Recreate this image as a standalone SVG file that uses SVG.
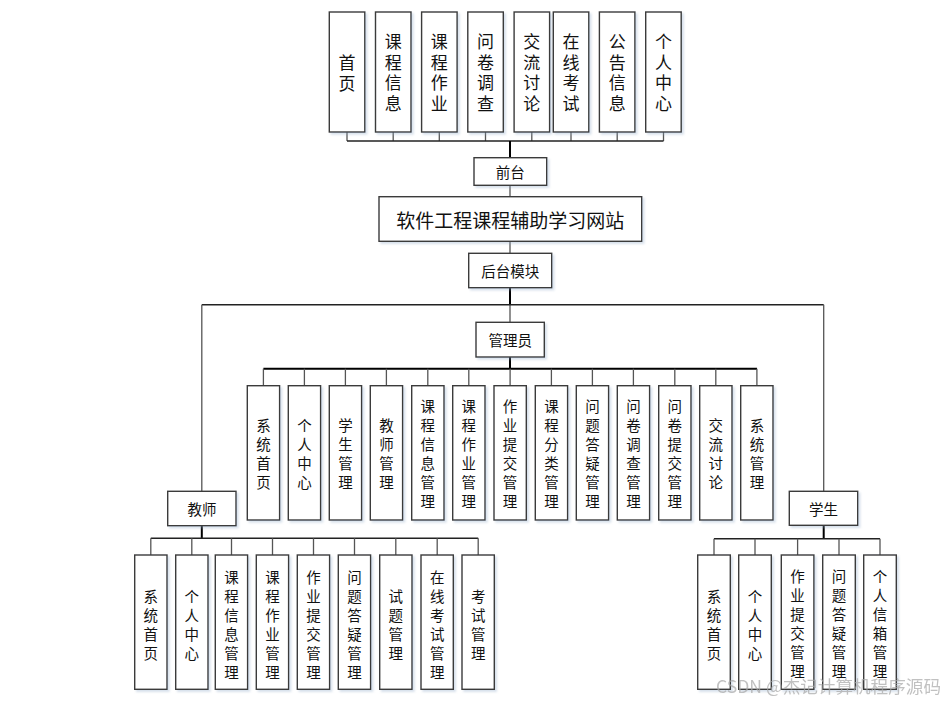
<svg xmlns="http://www.w3.org/2000/svg" width="945" height="701" viewBox="0 0 945 701">
<defs>
<filter id="sh" x="-20%" y="-20%" width="150%" height="150%">
<feDropShadow dx="2" dy="2" stdDeviation="1.2" flood-color="#8fa8c8" flood-opacity="0.35"/>
</filter>
</defs>
<style>
rect.b{fill:#fff;stroke:#3a3a3a;stroke-width:1.4;filter:url(#sh)}
text{font-family:"Noto Sans CJK SC","Noto Sans",sans-serif;fill:#111;text-anchor:middle;dominant-baseline:central}
.t1{font-size:17px}
.t2{font-size:14.5px}
.lb{font-size:14.5px}
.title{font-size:19px}
.c line{stroke:#222;stroke-width:1.4}
.c line.k{stroke:#000;stroke-width:2}
.c line.g{stroke:#555;stroke-width:1.3}
.wm{font-size:17.6px;fill:#a8a8a8;opacity:0.7;text-anchor:start;dominant-baseline:auto}
</style>
<rect width="945" height="701" fill="#fff"/>

<g class="c" id="connectors">
<line class="g" x1="347" y1="132" x2="347" y2="141"/>
<line class="g" x1="393.2" y1="132" x2="393.2" y2="141"/>
<line class="g" x1="439.3" y1="132" x2="439.3" y2="141"/>
<line class="g" x1="485.5" y1="132" x2="485.5" y2="141"/>
<line class="g" x1="531.8" y1="132" x2="531.8" y2="141"/>
<line class="g" x1="571" y1="132" x2="571" y2="141"/>
<line class="g" x1="617.2" y1="132" x2="617.2" y2="141"/>
<line class="g" x1="663.5" y1="132" x2="663.5" y2="141"/>
<line x1="347" y1="141" x2="663.5" y2="141"/>
<line class="k" x1="510" y1="141" x2="510" y2="157.7"/>
<line class="g" x1="510" y1="185.3" x2="510" y2="196.7"/>
<line class="g" x1="510" y1="241.3" x2="510" y2="253.3"/>
<line class="k" x1="510" y1="287.7" x2="510" y2="305"/>
<line class="g" x1="510" y1="305" x2="510" y2="322.3"/>
<line x1="201.8" y1="304.7" x2="823.7" y2="304.7"/>
<line class="g" x1="201.8" y1="304.7" x2="201.8" y2="491.3"/>
<line class="g" x1="823.7" y1="304.7" x2="823.7" y2="491.3"/>
<line class="k" x1="510" y1="357" x2="510" y2="368.7"/>
<line class="k" x1="263.4" y1="368.7" x2="757" y2="368.7"/>
<line class="g" x1="263.4" y1="368.7" x2="263.4" y2="385.7"/>
<line class="g" x1="304.4" y1="368.7" x2="304.4" y2="385.7"/>
<line class="g" x1="345.4" y1="368.7" x2="345.4" y2="385.7"/>
<line class="g" x1="386.4" y1="368.7" x2="386.4" y2="385.7"/>
<line class="g" x1="427.8" y1="368.7" x2="427.8" y2="385.7"/>
<line class="g" x1="468.8" y1="368.7" x2="468.8" y2="385.7"/>
<line class="g" x1="510.1" y1="368.7" x2="510.1" y2="385.7"/>
<line class="g" x1="551.4" y1="368.7" x2="551.4" y2="385.7"/>
<line class="g" x1="592.4" y1="368.7" x2="592.4" y2="385.7"/>
<line class="g" x1="633.4" y1="368.7" x2="633.4" y2="385.7"/>
<line class="g" x1="674.8" y1="368.7" x2="674.8" y2="385.7"/>
<line class="g" x1="715.8" y1="368.7" x2="715.8" y2="385.7"/>
<line class="g" x1="756.9" y1="368.7" x2="756.9" y2="385.7"/>
<line class="k" x1="201.8" y1="525.7" x2="201.8" y2="538.3"/>
<line x1="150.8" y1="538.3" x2="478.2" y2="538.3"/>
<line class="g" x1="150.8" y1="538.3" x2="150.8" y2="555"/>
<line class="g" x1="191.8" y1="538.3" x2="191.8" y2="555"/>
<line class="g" x1="231.5" y1="538.3" x2="231.5" y2="555"/>
<line class="g" x1="272.5" y1="538.3" x2="272.5" y2="555"/>
<line class="g" x1="313.5" y1="538.3" x2="313.5" y2="555"/>
<line class="g" x1="354.5" y1="538.3" x2="354.5" y2="555"/>
<line class="g" x1="395.8" y1="538.3" x2="395.8" y2="555"/>
<line class="g" x1="437.2" y1="538.3" x2="437.2" y2="555"/>
<line class="g" x1="478.2" y1="538.3" x2="478.2" y2="555"/>
<line class="k" x1="823.7" y1="525.3" x2="823.7" y2="538.7"/>
<line x1="714" y1="538.7" x2="880" y2="538.7"/>
<line class="g" x1="714" y1="538.7" x2="714" y2="555"/>
<line class="g" x1="755" y1="538.7" x2="755" y2="555"/>
<line class="g" x1="797.6" y1="538.7" x2="797.6" y2="555"/>
<line class="g" x1="839" y1="538.7" x2="839" y2="555"/>
<line class="g" x1="880" y1="538.7" x2="880" y2="555"/>
</g>

<g id="f1"><rect class="b" x="329.3" y="12" width="35.5" height="120"/><text class="t1"><tspan x="347" y="61">首</tspan><tspan x="347" y="81.5">页</tspan></text></g>
<g id="f2"><rect class="b" x="375.5" y="12" width="35.5" height="120"/><text class="t1"><tspan x="393.2" y="40.3">课</tspan><tspan x="393.2" y="60.8">程</tspan><tspan x="393.2" y="81.3">信</tspan><tspan x="393.2" y="101.8">息</tspan></text></g>
<g id="f3"><rect class="b" x="421.6" y="12" width="35.5" height="120"/><text class="t1"><tspan x="439.3" y="40.3">课</tspan><tspan x="439.3" y="60.8">程</tspan><tspan x="439.3" y="81.3">作</tspan><tspan x="439.3" y="101.8">业</tspan></text></g>
<g id="f4"><rect class="b" x="467.8" y="12" width="35.5" height="120"/><text class="t1"><tspan x="485.5" y="40.3">问</tspan><tspan x="485.5" y="60.8">卷</tspan><tspan x="485.5" y="81.3">调</tspan><tspan x="485.5" y="101.8">查</tspan></text></g>
<g id="f5"><rect class="b" x="514.1" y="12" width="35.5" height="120"/><text class="t1"><tspan x="531.8" y="40.3">交</tspan><tspan x="531.8" y="60.8">流</tspan><tspan x="531.8" y="81.3">讨</tspan><tspan x="531.8" y="101.8">论</tspan></text></g>
<g id="f6"><rect class="b" x="553.3" y="12" width="35.5" height="120"/><text class="t1"><tspan x="571" y="40.3">在</tspan><tspan x="571" y="60.8">线</tspan><tspan x="571" y="81.3">考</tspan><tspan x="571" y="101.8">试</tspan></text></g>
<g id="f7"><rect class="b" x="599.4" y="12" width="35.5" height="120"/><text class="t1"><tspan x="617.2" y="40.3">公</tspan><tspan x="617.2" y="60.8">告</tspan><tspan x="617.2" y="81.3">信</tspan><tspan x="617.2" y="101.8">息</tspan></text></g>
<g id="f8"><rect class="b" x="645.7" y="12" width="35.5" height="120"/><text class="t1"><tspan x="663.5" y="40.3">个</tspan><tspan x="663.5" y="60.8">人</tspan><tspan x="663.5" y="81.3">中</tspan><tspan x="663.5" y="101.8">心</tspan></text></g>

<g id="qiantai"><rect class="b" x="474" y="157.7" width="72.7" height="27.6"/><text class="lb" x="510.3" y="171.5">前台</text></g>
<g id="main"><rect class="b" x="379" y="196.7" width="262.7" height="44.6"/><text class="title" x="510.3" y="219">软件工程课程辅助学习网站</text></g>
<g id="houtai"><rect class="b" x="468.7" y="253.3" width="83" height="34.4"/><text class="lb" x="510.2" y="270.5">后台模块</text></g>
<g id="admin"><rect class="b" x="476" y="322.3" width="68.3" height="34.7"/><text class="lb" x="510.2" y="339.7">管理员</text></g>
<g id="teacher"><rect class="b" x="167.7" y="491.3" width="68.3" height="34.4"/><text class="lb" x="201.9" y="508.5">教师</text></g>
<g id="student"><rect class="b" x="789.3" y="491.3" width="68.4" height="34"/><text class="lb" x="823.5" y="508.3">学生</text></g>

<g id="a1"><rect class="b" x="247.3" y="385.7" width="32.3" height="134.3"/><text class="t2"><tspan x="263.4" y="424">系</tspan><tspan x="263.4" y="443">统</tspan><tspan x="263.4" y="462">首</tspan><tspan x="263.4" y="481">页</tspan></text></g>
<g id="a2"><rect class="b" x="288.3" y="385.7" width="32.3" height="134.3"/><text class="t2"><tspan x="304.4" y="424">个</tspan><tspan x="304.4" y="443">人</tspan><tspan x="304.4" y="462">中</tspan><tspan x="304.4" y="481">心</tspan></text></g>
<g id="a3"><rect class="b" x="329.3" y="385.7" width="32.3" height="134.3"/><text class="t2"><tspan x="345.4" y="424">学</tspan><tspan x="345.4" y="443">生</tspan><tspan x="345.4" y="462">管</tspan><tspan x="345.4" y="481">理</tspan></text></g>
<g id="a4"><rect class="b" x="370.3" y="385.7" width="32.3" height="134.3"/><text class="t2"><tspan x="386.4" y="424">教</tspan><tspan x="386.4" y="443">师</tspan><tspan x="386.4" y="462">管</tspan><tspan x="386.4" y="481">理</tspan></text></g>
<g id="a5"><rect class="b" x="411.7" y="385.7" width="32.3" height="134.3"/><text class="t2"><tspan x="427.8" y="405">课</tspan><tspan x="427.8" y="424">程</tspan><tspan x="427.8" y="443">信</tspan><tspan x="427.8" y="462">息</tspan><tspan x="427.8" y="481">管</tspan><tspan x="427.8" y="500">理</tspan></text></g>
<g id="a6"><rect class="b" x="452.7" y="385.7" width="32.3" height="134.3"/><text class="t2"><tspan x="468.8" y="405">课</tspan><tspan x="468.8" y="424">程</tspan><tspan x="468.8" y="443">作</tspan><tspan x="468.8" y="462">业</tspan><tspan x="468.8" y="481">管</tspan><tspan x="468.8" y="500">理</tspan></text></g>
<g id="a7"><rect class="b" x="494" y="385.7" width="32.3" height="134.3"/><text class="t2"><tspan x="510.1" y="405">作</tspan><tspan x="510.1" y="424">业</tspan><tspan x="510.1" y="443">提</tspan><tspan x="510.1" y="462">交</tspan><tspan x="510.1" y="481">管</tspan><tspan x="510.1" y="500">理</tspan></text></g>
<g id="a8"><rect class="b" x="535.3" y="385.7" width="32.3" height="134.3"/><text class="t2"><tspan x="551.4" y="405">课</tspan><tspan x="551.4" y="424">程</tspan><tspan x="551.4" y="443">分</tspan><tspan x="551.4" y="462">类</tspan><tspan x="551.4" y="481">管</tspan><tspan x="551.4" y="500">理</tspan></text></g>
<g id="a9"><rect class="b" x="576.3" y="385.7" width="32.3" height="134.3"/><text class="t2"><tspan x="592.4" y="405">问</tspan><tspan x="592.4" y="424">题</tspan><tspan x="592.4" y="443">答</tspan><tspan x="592.4" y="462">疑</tspan><tspan x="592.4" y="481">管</tspan><tspan x="592.4" y="500">理</tspan></text></g>
<g id="a10"><rect class="b" x="617.3" y="385.7" width="32.3" height="134.3"/><text class="t2"><tspan x="633.4" y="405">问</tspan><tspan x="633.4" y="424">卷</tspan><tspan x="633.4" y="443">调</tspan><tspan x="633.4" y="462">查</tspan><tspan x="633.4" y="481">管</tspan><tspan x="633.4" y="500">理</tspan></text></g>
<g id="a11"><rect class="b" x="658.7" y="385.7" width="32.3" height="134.3"/><text class="t2"><tspan x="674.8" y="405">问</tspan><tspan x="674.8" y="424">卷</tspan><tspan x="674.8" y="443">提</tspan><tspan x="674.8" y="462">交</tspan><tspan x="674.8" y="481">管</tspan><tspan x="674.8" y="500">理</tspan></text></g>
<g id="a12"><rect class="b" x="699.7" y="385.7" width="32.3" height="134.3"/><text class="t2"><tspan x="715.8" y="424">交</tspan><tspan x="715.8" y="443">流</tspan><tspan x="715.8" y="462">讨</tspan><tspan x="715.8" y="481">论</tspan></text></g>
<g id="a13"><rect class="b" x="740.7" y="385.7" width="32.3" height="134.3"/><text class="t2"><tspan x="756.9" y="424">系</tspan><tspan x="756.9" y="443">统</tspan><tspan x="756.9" y="462">管</tspan><tspan x="756.9" y="481">理</tspan></text></g>

<g id="t1"><rect class="b" x="134.7" y="555" width="32.3" height="134.3"/><text class="t2"><tspan x="150.8" y="595">系</tspan><tspan x="150.8" y="614">统</tspan><tspan x="150.8" y="633">首</tspan><tspan x="150.8" y="652">页</tspan></text></g>
<g id="t2"><rect class="b" x="175.7" y="555" width="32.3" height="134.3"/><text class="t2"><tspan x="191.8" y="595">个</tspan><tspan x="191.8" y="614">人</tspan><tspan x="191.8" y="633">中</tspan><tspan x="191.8" y="652">心</tspan></text></g>
<g id="t3"><rect class="b" x="215.3" y="555" width="32.3" height="134.3"/><text class="t2"><tspan x="231.5" y="576">课</tspan><tspan x="231.5" y="595">程</tspan><tspan x="231.5" y="614">信</tspan><tspan x="231.5" y="633">息</tspan><tspan x="231.5" y="652">管</tspan><tspan x="231.5" y="671">理</tspan></text></g>
<g id="t4"><rect class="b" x="256.3" y="555" width="32.3" height="134.3"/><text class="t2"><tspan x="272.5" y="576">课</tspan><tspan x="272.5" y="595">程</tspan><tspan x="272.5" y="614">作</tspan><tspan x="272.5" y="633">业</tspan><tspan x="272.5" y="652">管</tspan><tspan x="272.5" y="671">理</tspan></text></g>
<g id="t5"><rect class="b" x="297.3" y="555" width="32.3" height="134.3"/><text class="t2"><tspan x="313.5" y="576">作</tspan><tspan x="313.5" y="595">业</tspan><tspan x="313.5" y="614">提</tspan><tspan x="313.5" y="633">交</tspan><tspan x="313.5" y="652">管</tspan><tspan x="313.5" y="671">理</tspan></text></g>
<g id="t6"><rect class="b" x="338.3" y="555" width="32.3" height="134.3"/><text class="t2"><tspan x="354.5" y="576">问</tspan><tspan x="354.5" y="595">题</tspan><tspan x="354.5" y="614">答</tspan><tspan x="354.5" y="633">疑</tspan><tspan x="354.5" y="652">管</tspan><tspan x="354.5" y="671">理</tspan></text></g>
<g id="t7"><rect class="b" x="379.7" y="555" width="32.3" height="134.3"/><text class="t2"><tspan x="395.8" y="595">试</tspan><tspan x="395.8" y="614">题</tspan><tspan x="395.8" y="633">管</tspan><tspan x="395.8" y="652">理</tspan></text></g>
<g id="t8"><rect class="b" x="421" y="555" width="32.3" height="134.3"/><text class="t2"><tspan x="437.2" y="576">在</tspan><tspan x="437.2" y="595">线</tspan><tspan x="437.2" y="614">考</tspan><tspan x="437.2" y="633">试</tspan><tspan x="437.2" y="652">管</tspan><tspan x="437.2" y="671">理</tspan></text></g>
<g id="t9"><rect class="b" x="462" y="555" width="32.3" height="134.3"/><text class="t2"><tspan x="478.2" y="595">考</tspan><tspan x="478.2" y="614">试</tspan><tspan x="478.2" y="633">管</tspan><tspan x="478.2" y="652">理</tspan></text></g>

<g id="s1"><rect class="b" x="697.7" y="555" width="32.6" height="134.3"/><text class="t2"><tspan x="714" y="595">系</tspan><tspan x="714" y="614">统</tspan><tspan x="714" y="633">首</tspan><tspan x="714" y="652">页</tspan></text></g>
<g id="s2"><rect class="b" x="738.7" y="555" width="32.6" height="134.3"/><text class="t2"><tspan x="755" y="595">个</tspan><tspan x="755" y="614">人</tspan><tspan x="755" y="633">中</tspan><tspan x="755" y="652">心</tspan></text></g>
<g id="s3"><rect class="b" x="781.3" y="555" width="32.6" height="134.3"/><text class="t2"><tspan x="797.6" y="575">作</tspan><tspan x="797.6" y="594">业</tspan><tspan x="797.6" y="613">提</tspan><tspan x="797.6" y="632">交</tspan><tspan x="797.6" y="651">管</tspan><tspan x="797.6" y="670">理</tspan></text></g>
<g id="s4"><rect class="b" x="822.7" y="555" width="32.6" height="134.3"/><text class="t2"><tspan x="839" y="575">问</tspan><tspan x="839" y="594">题</tspan><tspan x="839" y="613">答</tspan><tspan x="839" y="632">疑</tspan><tspan x="839" y="651">管</tspan><tspan x="839" y="670">理</tspan></text></g>
<g id="s5"><rect class="b" x="863.7" y="555" width="32.6" height="134.3"/><text class="t2"><tspan x="880" y="575">个</tspan><tspan x="880" y="594">人</tspan><tspan x="880" y="613">信</tspan><tspan x="880" y="632">箱</tspan><tspan x="880" y="651">管</tspan><tspan x="880" y="670">理</tspan></text></g>

<text class="wm" x="716" y="693">CSDN @杰记计算机程序源码</text>
</svg>
